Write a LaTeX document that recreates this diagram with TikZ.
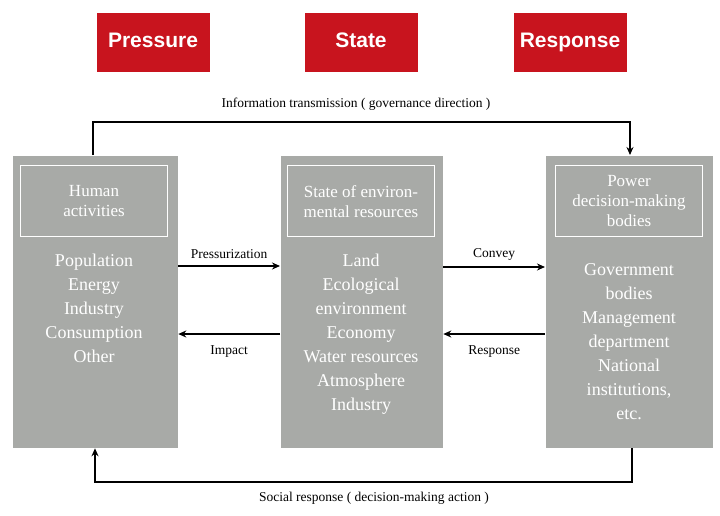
\documentclass[tikz,border=0pt]{standalone}
\usepackage{fontspec}
\setmainfont{Liberation Serif}
\newfontfamily\headfont{Liberation Sans}
\usetikzlibrary{positioning,arrows.meta}
\definecolor{psrred}{HTML}{C8141E}
\definecolor{psrgray}{HTML}{A8AAA7}
\tikzset{
    head/.style={fill=psrred, text=white, font=\headfont\bfseries\fontsize{21}{24}\selectfont, minimum width=113pt, minimum height=59pt, text height=15pt, text depth=4pt},
    panel/.style={fill=psrgray, minimum width=#1, minimum height=292pt, anchor=north west},
    title/.style={draw=white, line width=1.2pt, text=white, minimum width=147pt, minimum height=71pt, align=center, font=\fontsize{17}{20}\selectfont, anchor=north},
    items/.style={text=white, align=center, font=\fontsize{18}{24}\selectfont, anchor=north},
    lbl/.style={font=\fontsize{13.5}{15}\selectfont}
}
\begin{document}
\begin{tikzpicture}[x=1pt, y=-1pt, >={Stealth[length=8pt, width=7pt]}, line width=1.3pt]
\useasboundingbox (0,0) rectangle (720,515);
% headers
\node[head] (pres) at (153,42) {Pressure};
\node[head] (stat) at (361,42) {State};
\node[head] (resp) at (570,42) {Response};
% panels
\node[panel=165pt] (left) at (12,155) {};
\node[panel=162pt] (mid) at (280,155) {};
\node[panel=167pt] (right) at (545,155) {};
\node[title] (lt) at (94,165) {Human\\activities};
\node[title] (mt) at (361,165) {State of environ-\\mental resources};
\node[title] (rt) at (629,165) {Power\\decision-making\\bodies};
\node[items] (li) at (94,250) {Population\\Energy\\Industry\\Consumption\\Other};
\node[items] (mi) at (361,250) {Land\\Ecological\\environment\\Economy\\Water resources\\Atmosphere\\Industry};
\node[items] (ri) at (629,260) {Government\\bodies\\Management\\department\\National\\institutions,\\etc.};
% connectors
\coordinate (tl) at (93,122);
\coordinate (tr) at (630,122);
\coordinate (bl) at (95,482);
\coordinate (br) at (632,482);
\draw[->] (left.north west -| tl) -- (tl) -- (tr) -- (left.north west -| tr);
\node[lbl] (info) at (356,104) {Information transmission ( governance direction )};
\draw[->] (left.south west -| br) -- (br) -- (bl) -- (left.south west -| bl);
\node[lbl] (soc) at (374,498) {Social response ( decision-making action )};
\draw[->] (left.north east |- 0,266) -- (mid.north west |- 0,266) node[lbl, midway, above=3pt] {Pressurization};
\draw[->] (mid.north west |- 0,334) -- (left.north east |- 0,334) node[lbl, midway, below=8pt] {Impact};
\draw[->] (mid.north east |- 0,267) -- (right.north west |- 0,267) node[lbl, midway, above=3pt] {Convey};
\draw[->] (right.north west |- 0,334) -- (mid.north east |- 0,334) node[lbl, midway, below=8pt] {Response};
\end{tikzpicture}
\end{document}
